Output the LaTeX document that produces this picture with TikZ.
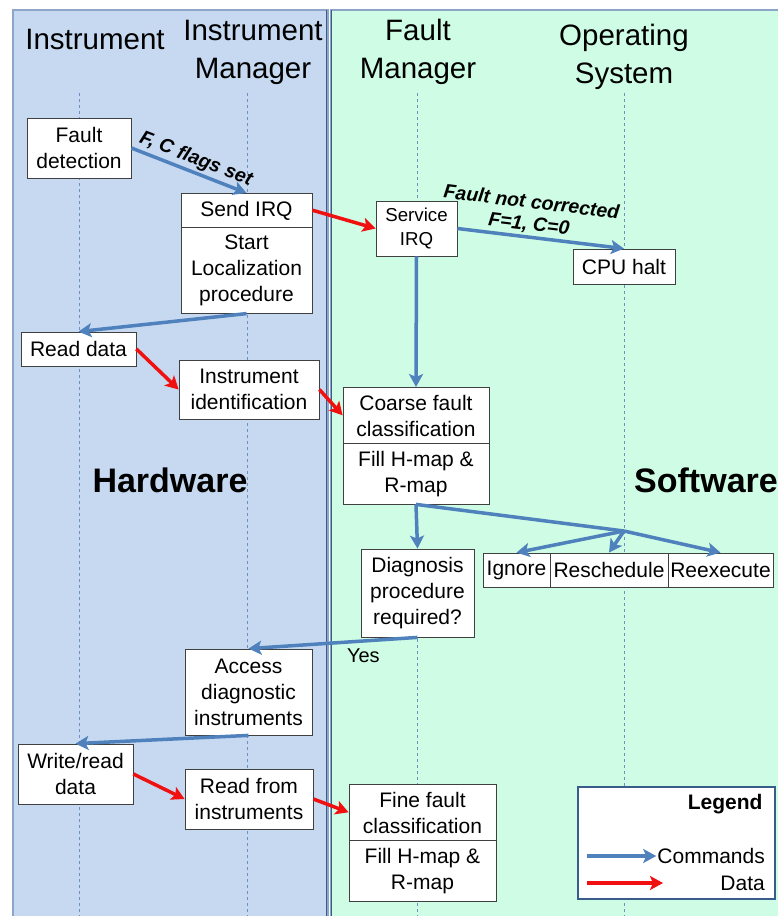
\documentclass[tikz,border=0pt]{standalone}
\usepackage{fontspec}
\setmainfont{Liberation Sans}
\usetikzlibrary{arrows.meta,calc,shapes.multipart}
\definecolor{hwBlue}{RGB}{198,217,241}
\definecolor{swGreen}{RGB}{206,252,228}
\definecolor{panelEdge}{RGB}{141,166,200}
\definecolor{splitBlue}{RGB}{56,93,138}
\definecolor{cmdBlue}{RGB}{79,129,189}
\definecolor{dataRed}{RGB}{240,16,16}
\definecolor{lifeBlue}{RGB}{110,145,195}
\tikzset{
    box/.style={draw=black!75,fill=white,line width=0.8pt,align=center,inner sep=4pt,font=\fontsize{21}{26}\selectfont},
    stacked/.style={box,rectangle split,rectangle split parts=2,inner ysep=7pt},
    cmd/.style={draw=cmdBlue,line width=3.5pt,-{Stealth[length=13pt,width=14pt,inset=3pt]}},
    data/.style={draw=dataRed,line width=3.5pt,-{Stealth[length=13pt,width=14pt,inset=3pt]}},
    lifeline/.style={lifeBlue,dashed,line width=0.7pt},
    lane/.style={font=\fontsize{29.5}{38}\selectfont,align=center},
    side/.style={font=\fontsize{34}{40}\selectfont\bfseries},
    flag/.style={font=\fontsize{19.5}{22}\selectfont\bfseries\itshape,align=center,inner sep=2pt}
}

\begin{document}
\begin{tikzpicture}[x=1pt,y=-1pt]
    \useasboundingbox (0,0) rectangle (777,916);

    % panels
    \fill[white] (0,0) rectangle (777,916);
    \draw[panelEdge,fill=hwBlue,line width=1.2pt] (13,10) rectangle (328,930);
    \draw[panelEdge,fill=swGreen,line width=1.2pt] (331,10) rectangle (795,930);
    \draw[splitBlue,line width=1.6pt] (326.5,10) -- (326.5,916);
    \draw[splitBlue,line width=1.6pt] (331.5,10) -- (331.5,916);

    \foreach \x in {79,247,417,624}
        \draw[lifeline] (\x,93) -- (\x,916);

    \node[lane] (instr) at (95,39) {Instrument};
    \node[lane] (instrmgr) at (253,52) {Instrument\\Manager};
    \node[lane] (faultmgr) at (418,52) {Fault\\Manager};
    \node[lane] (opsys) at (624,57) {Operating\\System};

    \node[side] (hw) at (170,480) {Hardware};
    \node[side] (sw) at (706,480) {Software};

    % boxes
    \node[box,minimum width=104pt,minimum height=60pt] (fdet) at (79,148) {Fault\\detection};
    \node[stacked,minimum width=131pt,anchor=north] (sendirq) at (246.5,193)
        {Send IRQ \nodepart{two} Start\\Localization\\procedure};
    \node[box,minimum width=81pt,minimum height=55pt,font=\fontsize{18.7}{24}\selectfont] (sirq) at (416.5,228.5) {Service\\IRQ};
    \node[box,minimum width=102pt,minimum height=35pt] (cpu) at (624,266.5) {CPU halt};
    \node[box,minimum width=115pt,minimum height=34pt] (rdata) at (78.5,349) {Read data};
    \node[box,minimum width=140pt,minimum height=59pt] (instid) at (249,389.5) {Instrument\\identification};
    \node[stacked,minimum width=146pt,anchor=north] (coarse) at (416,387)
        {Coarse fault\\classification \nodepart{two} Fill H-map \&\\R-map};
    \node[box,minimum width=113pt,minimum height=88pt] (diag) at (417.5,593) {Diagnosis\\procedure\\required?};
    \node[box,minimum width=67pt,minimum height=34pt,inner xsep=1pt] (ignore) at (516.5,570) {Ignore};
    \node[box,minimum width=118pt,minimum height=34pt,inner xsep=1pt] (resched) at (609,570) {Reschedule};
    \node[box,minimum width=105pt,minimum height=34pt,inner xsep=1pt] (reexec) at (720.5,570) {Reexecute};
    \node[box,minimum width=127pt,minimum height=86pt] (access) at (248.5,692) {Access\\diagnostic\\instruments};
    \node[box,minimum width=115pt,minimum height=60pt] (wrdata) at (75.5,774) {Write/read\\data};
    \node[box,minimum width=128pt,minimum height=60pt] (rfrom) at (249,799) {Read from\\instruments};
    \node[stacked,minimum width=147pt,anchor=north] (fine) at (422.5,784)
        {Fine fault\\classification \nodepart{two} Fill H-map \&\\R-map};

    \coordinate (fork) at (624,531);

    % commands
    \draw[cmd] (fdet.east) -- node[flag,sloped,above,pos=0.52] {F, C flags set} (sendirq.north);
    \draw[cmd] (sirq.east) -- node[flag,sloped,above,pos=0.42] {Fault not corrected\\F=1, C=0} (cpu.north);
    \draw[cmd] (sendirq.south) -- (rdata.north);
    \draw[cmd] (sirq.south) -- (coarse.north);
    \draw[cmd] (coarse.south) -- (diag.north);
    \draw[cmdBlue,line width=3.5pt] (coarse.south) -- (fork);
    \draw[cmd] (fork) -- (ignore.north);
    \draw[cmd] (fork) -- (resched.north);
    \draw[cmd] (fork) -- (reexec.north);
    \draw[cmd] (diag.south) -- node[pos=0.32,below,yshift=-3pt,font=\fontsize{20}{24}\selectfont] (yes) {Yes} (access.north);
    \draw[cmd] (access.south) -- (wrdata.north);

    % data
    \draw[data] ($(sendirq.north east)!0.5!(sendirq.text split east)$) -- (sirq.west);
    \draw[data] (rdata.east) -- (instid.west);
    \draw[data] (instid.east) -- ($(coarse.north west)!0.5!(coarse.text split west)$);
    \draw[data] (wrdata.east) -- (rfrom.west);
    \draw[data] (rfrom.east) -- ($(fine.north west)!0.5!(fine.text split west)$);

    % legend
    \draw[splitBlue,fill=white,line width=2.5pt] (578,787) rectangle (775,899);
    \node[anchor=east,font=\fontsize{21}{26}\selectfont\bfseries] (legtitle) at (766,804) {Legend};
    \node[anchor=east,font=\fontsize{21}{26}\selectfont,inner sep=1pt] (legcmd) at (766,856) {Commands};
    \node[anchor=east,font=\fontsize{21}{26}\selectfont,inner sep=1pt] (legdata) at (766,883) {Data};
    \coordinate (cmdA) at (587,856);
    \coordinate (dataA) at (587,883);
    \coordinate (dataB) at (663,883);
    \draw[cmd] (cmdA) -- (legcmd.west);
    \draw[data] (dataA) -- (dataB);
\end{tikzpicture}
\end{document}
